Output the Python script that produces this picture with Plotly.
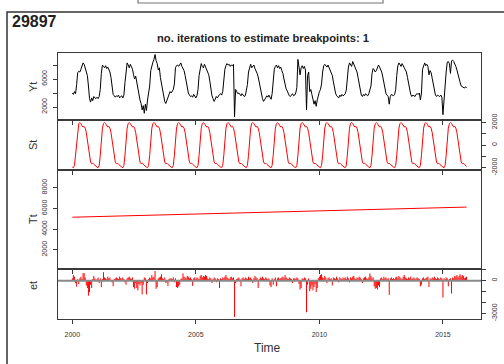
import numpy as np
import plotly.graph_objects as go
from plotly.subplots import make_subplots

# ---------------- data ----------------
START_YEAR = 2000
PER_YEAR = 23          # 16-day composites

# observed series Yt, one row per year
yt_2000 = [4000, 3800, 4200, 3900, 5200, 6900, 7100, 7000, 7400, 8000, 8300, 8100, 7600, 7000, 6500, 5000, 3200, 2700, 3300, 2900, 3500, 3300, 3200]
yt_2001 = [3400, 3200, 3500, 4500, 6800, 8000, 7800, 7600, 7900, 7500, 7700, 7300, 7000, 6200, 5000, 3800, 3600, 3400, 3600, 3500, 3700, 3300, 3500]
yt_2002 = [3600, 3300, 3700, 5500, 7300, 8300, 8000, 7600, 8100, 7800, 7400, 6600, 6000, 6400, 5500, 4500, 3700, 3000, 2500, 1600, 2200, 1100, 2400]
yt_2003 = [1500, 3000, 3800, 5000, 7200, 8000, 8400, 8800, 9500, 8600, 8200, 7300, 7600, 6200, 5200, 4300, 3500, 2800, 2500, 3000, 3200, 3800, 4200]
yt_2004 = [4000, 4300, 4500, 5300, 7600, 7900, 8000, 7800, 8100, 8300, 7800, 7500, 7200, 6500, 5600, 4600, 4000, 3700, 3500, 3600, 3400, 3800, 3500]
yt_2005 = [3300, 3600, 4500, 6500, 7800, 8200, 7800, 7600, 8100, 7700, 7400, 7000, 6600, 5700, 4600, 3600, 3200, 2800, 3100, 3500, 3300, 3600, 3800]
yt_2006 = [3900, 3700, 4200, 6000, 7400, 7900, 8200, 8000, 8100, 7800, 8000, 7900, 8100, 600, 4500, 4200, 3900, 4000, 3800, 3600, 3900, 3700, 3500]
yt_2007 = [3600, 4200, 5200, 7000, 7800, 8100, 7600, 7800, 8000, 7500, 7200, 6800, 6300, 5400, 4400, 3800, 3200, 2800, 3000, 3300, 3600, 3400, 3700]
yt_2008 = [3300, 3100, 3900, 5600, 7400, 7800, 8000, 7600, 7900, 7500, 7700, 7200, 6800, 6000, 5200, 4600, 4300, 3800, 3600, 3500, 3700, 3900, 3600]
yt_2009 = [3700, 4000, 4800, 8800, 7200, 6600, 7600, 7900, 7500, 7800, 7300, 1600, 6500, 7000, 4200, 4500, 3800, 3000, 2400, 2900, 2100, 3000, 3800]
yt_2010 = [4200, 4500, 5300, 7000, 7900, 8100, 7900, 7700, 8000, 7600, 7400, 7000, 6500, 5600, 4600, 4000, 3600, 3400, 3300, 3700, 3500, 3800, 3600]
yt_2011 = [3700, 3900, 4400, 6300, 7700, 8300, 8000, 7800, 8500, 8100, 7600, 7300, 7000, 6200, 5200, 4200, 3700, 3500, 3800, 3600, 3900, 3700, 3600]
yt_2012 = [3900, 4400, 5000, 6800, 7500, 7300, 7000, 7200, 7500, 8000, 7700, 7400, 7000, 6300, 5300, 4400, 3900, 3700, 3500, 2400, 3500, 3800, 3700]
yt_2013 = [3600, 3800, 4500, 6500, 7900, 8300, 8000, 7800, 8200, 7900, 7800, 7400, 7000, 6200, 5300, 4300, 3800, 3500, 3700, 3600, 3500, 3800, 3900]
yt_2014 = [3800, 4000, 3000, 4000, 7400, 8000, 8300, 7900, 8100, 7800, 6600, 7200, 6900, 6100, 5200, 4300, 3700, 3500, 3700, 3600, 3500, 3700, 3400]
yt_2015 = [900, 3500, 5200, 7000, 8400, 8500, 8200, 6800, 8600, 8700, 8500, 8200, 7800, 7300, 6600, 6000, 5500, 5000, 4900, 4800, 4700, 4900, 4700]

# seasonal component St (one year, repeats each year)
season_st = [-1950, -2000, -1800, -900, 500, 1500, 1900, 2000, 1900, 1700, 1600, 1650,
             1500, 1100, 400, -400, -1100, -1500, -1650, -1600, -1700, -1800, -1900]

# trend component Tt (straight line), value at first and last observation
trend_first = 5150
trend_last = 6130

# remainder component et, one row per year
et_2000 = [220, 520, 370, -220, -550, 150, -300, 220, 370, 150, 670, 700, 300, -440, -670, -1370, -1040, -370, -670, 150, 440, 220, 70]
et_2001 = [150, 300, -220, 220, -590, 150, 780, 300, 220, 150, 370, 220, 300, 70, -150, -520, 150, 220, 300, 220, 150, 370, 220]
et_2002 = [220, 300, 150, -150, -370, 220, 300, 370, 220, 150, 300, -590, -740, -220, -670, -890, -300, -440, -220, -1260, -370, 300, 220]
et_2003 = [-1260, -220, 150, 300, 220, 520, 300, 370, 890, -740, -590, 220, 300, 370, 590, 220, 150, 300, -220, -150, -480, 150, 220]
et_2004 = [220, 150, 300, -150, 220, -590, -670, -520, -370, 150, 220, 670, 370, 300, 220, 440, 370, 220, 300, 150, -480, 220, 300]
et_2005 = [150, 300, 220, 150, 440, 520, 300, 440, 370, 520, 440, 220, 150, 300, 220, -220, 150, 300, 220, -150, 220, 150, -670]
et_2006 = [220, 150, 300, 220, 370, 520, 300, 220, 150, 300, 370, 220, 300, -3330, -220, 150, 220, 300, 150, -520, 220, 300, 150]
et_2007 = [300, 220, 150, 370, 220, 300, 150, -220, 220, 440, 300, 220, -670, 150, 300, 220, 370, 220, 150, 300, 220, 150, 220]
et_2008 = [-440, -590, 220, -370, 150, 300, -520, 220, 300, 150, 220, 300, 370, 220, 520, 300, 220, 150, 300, 220, 150, -220, 220]
et_2009 = [220, 150, 300, 220, -300, -810, -670, 220, 150, 300, 220, -2900, -370, 220, -960, -740, -440, -890, -590, -300, -1040, -670, 220]
et_2010 = [370, 520, 590, 300, 220, 440, 300, -220, 220, 300, 150, 220, -440, 300, 220, 150, 370, 220, -150, 300, 220, 150, 300]
et_2011 = [220, 300, 150, 370, 220, -150, 300, 220, 370, 440, 220, 150, 300, 220, 370, 300, 150, -220, 220, 300, 370, 220, 150]
et_2012 = [300, 670, 440, 220, 300, -520, -740, -670, -810, -440, -590, 220, 300, 150, 370, 220, 300, 150, 220, -1300, 220, 300, 150]
et_2013 = [220, 150, 300, 370, 220, 440, 300, 220, 150, 370, 520, 300, 220, 150, 300, 220, 370, 150, 220, 300, 150, 220, 300]
et_2014 = [220, 150, -520, -370, 220, 300, 150, 220, 300, 370, -590, 220, 150, 300, 220, 370, 220, 150, 300, 220, 150, 300, 220]
et_2015 = [-1550, 220, 150, 300, 220, -520, 150, 220, -1180, 300, 220, 440, 370, 520, 300, 440, 590, 370, 520, 440, 220, 300, 370]

yt_rows = [yt_2000, yt_2001, yt_2002, yt_2003, yt_2004, yt_2005, yt_2006, yt_2007,
           yt_2008, yt_2009, yt_2010, yt_2011, yt_2012, yt_2013, yt_2014, yt_2015]
et_rows = [et_2000, et_2001, et_2002, et_2003, et_2004, et_2005, et_2006, et_2007,
           et_2008, et_2009, et_2010, et_2011, et_2012, et_2013, et_2014, et_2015]

# axis ticks
x_tick_vals = [2000, 2005, 2010, 2015]
x_tick_text = ["2000", "2005", "2010", "2015"]
yt_tick_vals = [2000, 4000, 6000, 8000]
yt_tick_text = ["2000", "", "6000", ""]
st_tick_vals = [-2000, -1000, 0, 1000, 2000]
st_tick_text = ["-2000", "", "0", "", "2000"]
tt_tick_vals = [2000, 4000, 6000, 8000]
tt_tick_text = ["2000", "4000", "6000", "8000"]
et_tick_vals = [-3000, -2000, -1000, 0, 1000]
et_tick_text = ["-3000", "", "", "0", ""]

# ---------------- series ----------------
yt = np.concatenate([np.array(r, dtype=float) for r in yt_rows])
et = np.concatenate([np.array(r, dtype=float) for r in et_rows])
n = len(yt)
t = START_YEAR + np.arange(n) / PER_YEAR
st = np.tile(np.array(season_st, dtype=float), n // PER_YEAR)

# ---------------- figure ----------------
W, H = 504, 364
L, R, T, B = 58, 23, 53, 45
fig = make_subplots(rows=4, cols=1, shared_xaxes=True, vertical_spacing=0,
                    row_heights=[67, 50, 99, 50])

fig.add_trace(go.Scatter(x=t, y=yt, mode="lines", line=dict(color="black", width=1)), row=1, col=1)
fig.add_trace(go.Scatter(x=t, y=st, mode="lines", line=dict(color="#ff0000", width=1)), row=2, col=1)
fig.add_trace(go.Scatter(x=[t[0], t[-1]], y=[trend_first, trend_last], mode="lines",
                         line=dict(color="#ff0000", width=1)), row=3, col=1)
ex, ey = [], []
for ti, ei in zip(t, et):
    ex += [ti, ti, None]
    ey += [0, ei, None]
fig.add_trace(go.Scatter(x=ex, y=ey, mode="lines", line=dict(color="#ff0000", width=1)), row=4, col=1)

fig.add_shape(type="line", xref="x4 domain", yref="y4", x0=0, x1=1, y0=0, y1=0,
              line=dict(color="#8a8a8a", width=2))

FONT = "Liberation Sans, Arial, sans-serif"
axis_common = dict(showline=True, linecolor="#3a3a3a", linewidth=1, mirror=True,
                   showgrid=False, zeroline=False, ticks="outside", ticklen=4,
                   tickcolor="#3a3a3a", tickwidth=1, automargin=False)

for i in range(1, 5):
    fig.update_xaxes(range=[1999.42, 2016.54], tickvals=x_tick_vals, ticktext=x_tick_text,
                     showticklabels=(i == 4), tickfont=dict(size=7, color="#333", family=FONT),
                     ticklabelstandoff=5, row=i, col=1, **axis_common)

ytick_font = dict(size=7, color="#333", family=FONT)
fig.update_yaxes(range=[143, 9714], tickvals=yt_tick_vals, ticktext=yt_tick_text, side="left",
                 tickangle=-90, tickfont=ytick_font, ticklabelstandoff=3, row=1, col=1, **axis_common)
fig.update_yaxes(range=[-2204, 2221], tickvals=st_tick_vals, ticktext=st_tick_text, side="right",
                 tickangle=-90, tickfont=ytick_font, ticklabelstandoff=3, row=2, col=1, **axis_common)
fig.update_yaxes(range=[143, 9714], tickvals=tt_tick_vals, ticktext=tt_tick_text, side="left",
                 tickangle=-90, tickfont=ytick_font, ticklabelstandoff=3, row=3, col=1, **axis_common)
fig.update_yaxes(range=[-3514, 1073], tickvals=et_tick_vals, ticktext=et_tick_text, side="right",
                 tickangle=-90, tickfont=ytick_font, ticklabelstandoff=3, row=4, col=1, **axis_common)

pw, ph = W - L - R, H - T - B
def px(x): return (x - L) / pw
def py(y): return (H - B - y) / ph

annos = [
    dict(text="<b>29897</b>", x=px(10), y=py(21), xanchor="left", yanchor="middle",
         font=dict(size=16, color="#222", family=FONT)),
    dict(text="<b>no. iterations to estimate breakpoints: 1</b>", x=px(263), y=py(38),
         xanchor="center", yanchor="middle", font=dict(size=11.2, color="#222", family=FONT)),
    dict(text="Time", x=px(267), y=py(348), xanchor="center", yanchor="middle",
         font=dict(size=12, color="#333", family=FONT)),
]
for lab, yy in [("Yt", 87), ("St", 145), ("Tt", 219), ("et", 286)]:
    annos.append(dict(text=lab, x=px(33), y=py(yy), xanchor="center", yanchor="middle",
                      textangle=-90, font=dict(size=11, color="#333", family=FONT)))
for a in annos:
    a.update(xref="paper", yref="paper", showarrow=False)

shapes = [
    dict(type="rect", xref="paper", yref="paper", x0=px(7), x1=px(506), y0=py(366), y1=py(12),
         line=dict(color="#333", width=1.5), fillcolor="rgba(0,0,0,0)", layer="above"),
    dict(type="rect", xref="paper", yref="paper", x0=px(138), x1=px(383), y0=py(3), y1=py(-3),
         line=dict(color="#777", width=1.2), fillcolor="rgba(0,0,0,0)", layer="above"),
]

fig.update_layout(width=W, height=H, margin=dict(l=L, r=R, t=T, b=B, pad=0, autoexpand=False),
                  paper_bgcolor="white", plot_bgcolor="white", showlegend=False,
                  annotations=annos, font=dict(family=FONT))
for s in shapes:
    fig.add_shape(**s)

fig.write_html("out.html", config={"displayModeBar": False},
               post_script="document.body.style.margin='0';document.body.style.padding='0';")
